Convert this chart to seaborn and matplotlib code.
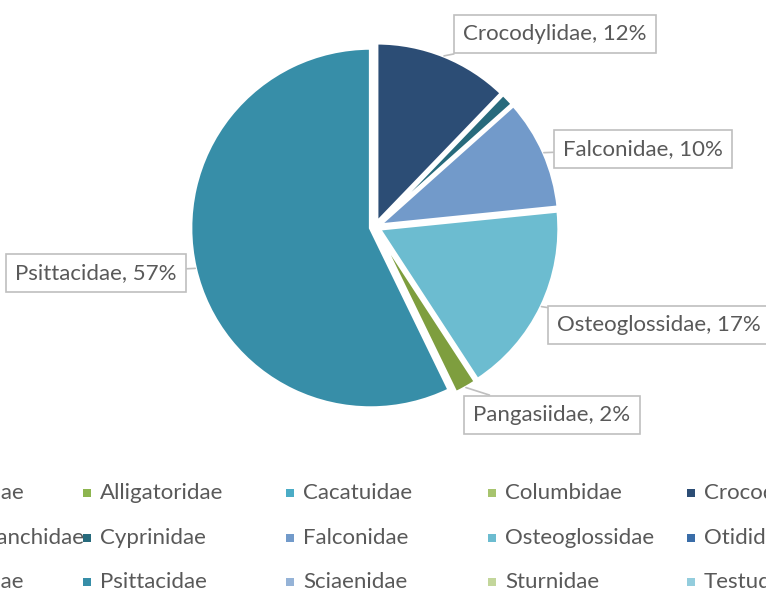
import matplotlib
matplotlib.use("Agg")
import matplotlib.pyplot as plt
from matplotlib.patches import Rectangle
import numpy as np
import seaborn as sns

sns.set_style("white")
plt.rcParams["font.family"] = ["Lato", "DejaVu Sans"]

# 数据
families = ["Accipitridae", "Alligatoridae", "Cacatuidae", "Columbidae", "Crocodylidae",
            "Cryptobranchidae", "Cyprinidae", "Falconidae", "Osteoglossidae", "Otididae",
            "Pangasiidae", "Psittacidae", "Sciaenidae", "Sturnidae", "Testudinidae"]
shares = [0, 0, 0, 0, 12.2,
          0, 1.2, 10.0, 17.4, 0,
          2.0, 57.2, 0, 0, 0]
colors = ["#4A7EBB", "#8DB54F", "#4BACC6", "#A7C46E", "#2C4D75",
          "#31859C", "#276A7C", "#729ACA", "#6CBCD0", "#3A6DA8",
          "#7E9E3E", "#378EA8", "#95B3D7", "#C3D69B", "#93CDDD"]
labelled = ["Crocodylidae", "Falconidae", "Osteoglossidae", "Pangasiidae", "Psittacidae"]

W, H = 766, 592
txt_color = "#595959"
fs = 16


def px(x, y):
    # 像素坐标(左上原点) -> figure fraction
    return x / W, 1 - y / H


fig = plt.figure(figsize=(W / 100, H / 100), dpi=100)
cx, cy, R = 375, 227, 180
ax = fig.add_axes([(cx - R) / W, (H - cy - R) / H, 2 * R / W, 2 * R / H])

names = [f for f, s in zip(families, shares) if s > 0]
vals = [s for s in shares if s > 0]
cols = [c for c, s in zip(colors, shares) if s > 0]
wedges, _ = ax.pie(vals, colors=cols, startangle=90, counterclock=False,
                   explode=[0.025] * len(vals),
                   wedgeprops=dict(edgecolor="white", linewidth=2.5))
ax.set_xlim(-1, 1)
ax.set_ylim(-1, 1)
ax.axis("off")

# 标签框位置 (像素, 文本中心)
label_pos = {"Crocodylidae": (555, 34), "Falconidae": (643, 149),
             "Osteoglossidae": (659, 325), "Pangasiidae": (552, 415),
             "Psittacidae": (96, 273)}
total = sum(vals)
for w, n, v in zip(wedges, names, vals):
    if n not in labelled:
        continue
    ang = np.deg2rad((w.theta1 + w.theta2) / 2)
    tip = (w.center[0] + w.r * np.cos(ang), w.center[1] + w.r * np.sin(ang))
    ax.annotate(f"{n}, {v / total * 100:.0f}%", xy=tip, xycoords="data",
                xytext=px(*label_pos[n]), textcoords="figure fraction",
                ha="center", va="center", fontsize=fs, color=txt_color,
                bbox=dict(boxstyle="square,pad=0.42", fc="white", ec="#BFBFBF", lw=1.2),
                arrowprops=dict(arrowstyle="-", color="#BFBFBF", lw=1.2,
                                shrinkA=0, shrinkB=0),
                annotation_clip=False)

# 图例 (5列, 超出画布部分被裁掉)
col_x = [-109, 83, 286, 488, 687]
row_y = [493, 538, 582]
for i, (n, c) in enumerate(zip(families, colors)):
    r, k = divmod(i, 5)
    x, y = col_x[k], row_y[r]
    fig.patches.append(Rectangle(px(x, y + 4), 8 / W, 8 / H, transform=fig.transFigure,
                                 facecolor=c, edgecolor="none"))
    fig.text(*px(x + 17, y), n, ha="left", va="center", fontsize=fs, color=txt_color)

fig.savefig("out.png", dpi=100)
